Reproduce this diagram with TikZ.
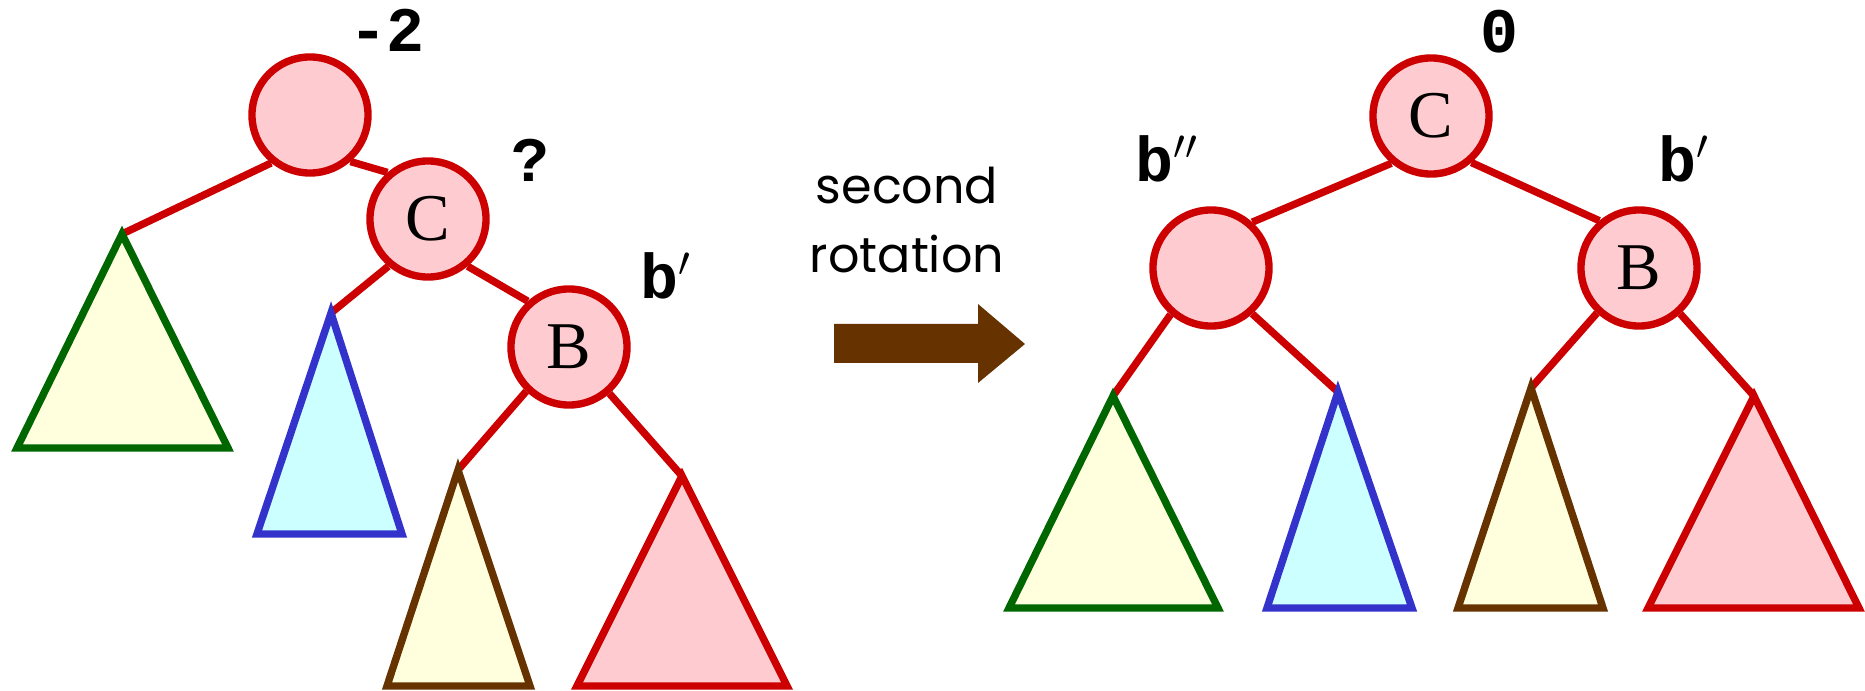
\documentclass[tikz,border=0pt]{standalone}
\usepackage{fontspec}
\setmainfont{Liberation Serif}
\newfontfamily\balfont{Liberation Mono}
\newfontfamily\notefont{Poppins}
\usetikzlibrary{positioning}

\definecolor{nodered}{HTML}{CC0000}
\definecolor{nodepink}{HTML}{FDCBD0}
\definecolor{treegreen}{HTML}{006600}
\definecolor{treeyellow}{HTML}{FFFFDD}
\definecolor{treeblue}{HTML}{3333CC}
\definecolor{treecyan}{HTML}{CCFFFF}
\definecolor{treebrown}{HTML}{663300}

\begin{document}
\begin{tikzpicture}[x=0.01cm, y=-0.01cm,
                    avl/.style={circle, draw=nodered, fill=nodepink, line width=2.1pt, minimum size=1.16cm, inner sep=0pt, font=\fontsize{19}{19}\selectfont},
                    edge/.style={draw=nodered, line width=2.1pt},
                    bal/.style={inner sep=0pt, font=\balfont\bfseries\fontsize{18}{18}\selectfont},
                    subtree/.style={line width=2.1pt, line join=miter}]
        \useasboundingbox (0,0) rectangle (1865,691);
        % before the second rotation
        \node[avl] (a) at (310,115) {};
        \node[avl] (c) at (428,219) {C};
        \node[avl] (b) at (569,347) {B};
        \node[bal] (abal) at (387,30) {-2};
        \node[bal] (cbal) at (530,160) {?};
        \node[bal] (bbal) at (666,276) {b$'$};
        \coordinate (t1) at (122,234);
        \coordinate (t2) at (331,313);
        \coordinate (t3) at (458,470);
        \coordinate (t4) at (682,476);
        \draw[edge] (a.231) -- (t1);
        \draw[edge] (a.-49) -- (c.131);
        \draw[edge] (c.230) -- (t2);
        \draw[edge] (c.-50) -- (b.132);
        \draw[edge] (b.226) -- (t3);
        \draw[edge] (b.-49) -- (t4);
        \filldraw[subtree, draw=treegreen, fill=treeyellow] (t1) -- (17,448) -- (228,448) -- cycle;
        \filldraw[subtree, draw=treeblue, fill=treecyan] (t2) -- (257,534) -- (402,534) -- cycle;
        \filldraw[subtree, draw=treebrown, fill=treeyellow] (t3) -- (387,686) -- (530,686) -- cycle;
        \filldraw[subtree, draw=nodered, fill=nodepink] (t4) -- (577,686) -- (787,686) -- cycle;
        % the rotation
        \node[align=center, font=\notefont\fontsize{14}{19.6}\selectfont] (rot) at (907,220) {second\\rotation};
        \fill[treebrown] (834,324) -- (978,324) -- (978,304) -- (1025,344) -- (978,383) -- (978,363) -- (834,363) -- cycle;
        % after the second rotation
        \node[avl] (c2) at (1431,116) {C};
        \node[avl] (a2) at (1211,268) {};
        \node[avl] (b2) at (1639,268) {B};
        \node[bal] (c2bal) at (1499,32) {0};
        \node[bal] (a2bal) at (1167,159) {b$''$};
        \node[bal] (b2bal) at (1684,159) {b$'$};
        \coordinate (u1) at (1113,396);
        \coordinate (u2) at (1338,392);
        \coordinate (u3) at (1531,388);
        \coordinate (u4) at (1754,396);
        \draw[edge] (c2.230) -- (a2.48);
        \draw[edge] (c2.-49) -- (b2.130);
        \draw[edge] (a2.229) -- (u1);
        \draw[edge] (a2.-48) -- (u2);
        \draw[edge] (b2.227) -- (u3);
        \draw[edge] (b2.-48) -- (u4);
        \filldraw[subtree, draw=treegreen, fill=treeyellow] (u1) -- (1009,608) -- (1218,608) -- cycle;
        \filldraw[subtree, draw=treeblue, fill=treecyan] (u2) -- (1267,608) -- (1412,608) -- cycle;
        \filldraw[subtree, draw=treebrown, fill=treeyellow] (u3) -- (1458,608) -- (1603,608) -- cycle;
        \filldraw[subtree, draw=nodered, fill=nodepink] (u4) -- (1648,608) -- (1859,608) -- cycle;
    \end{tikzpicture}
\end{document}
